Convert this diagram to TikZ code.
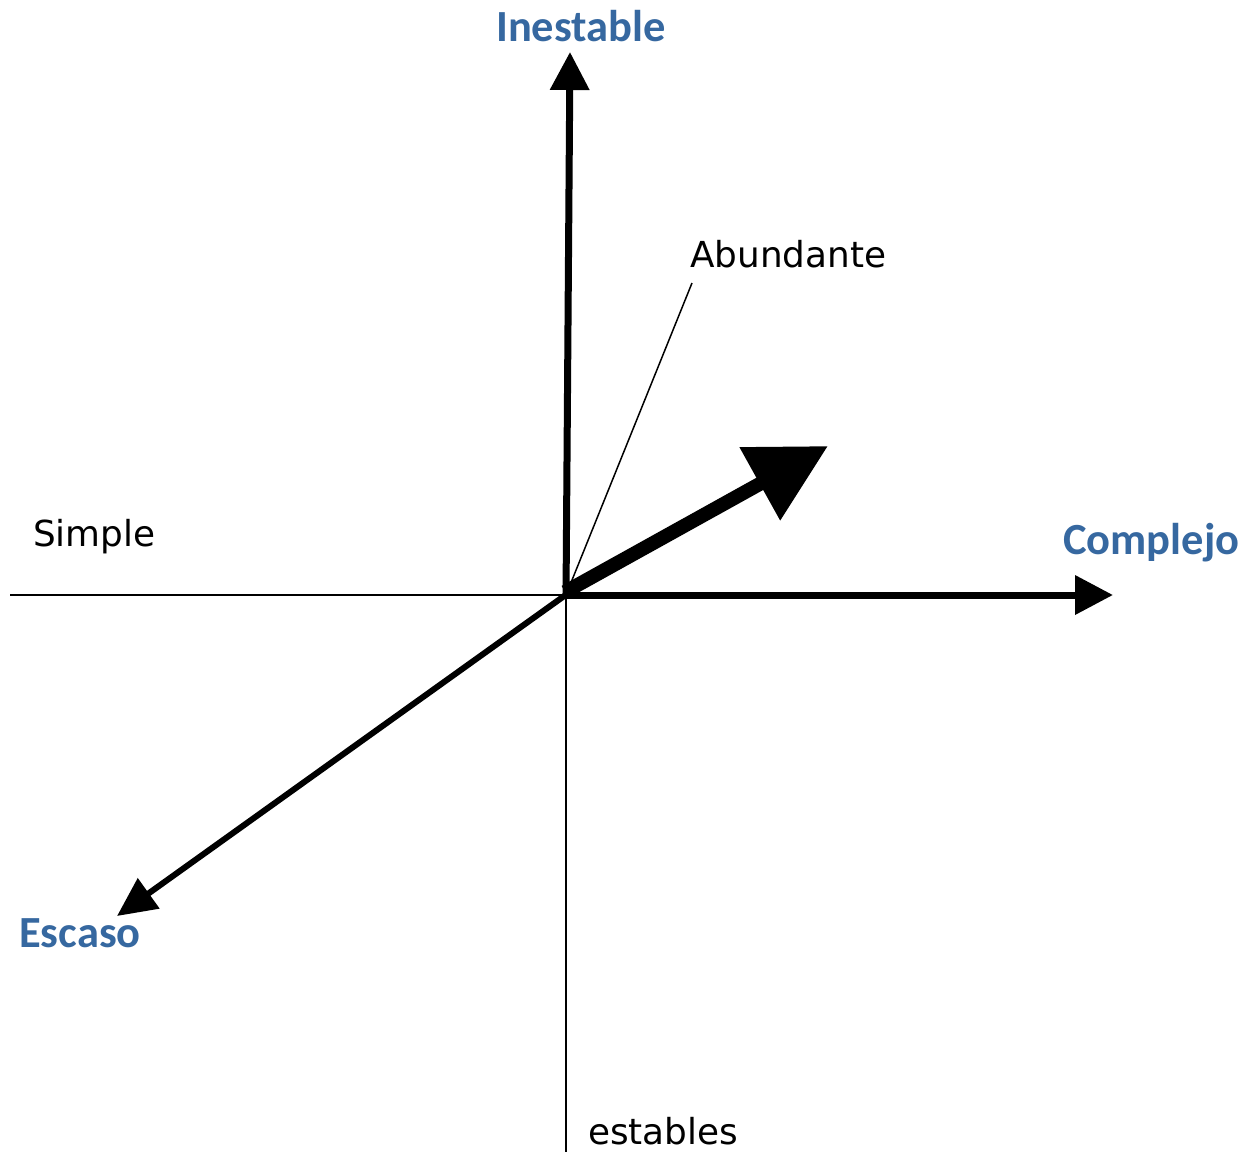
\documentclass[tikz,border=0pt]{standalone}
\usepackage{fontspec}
\setmainfont{DejaVu Sans}
\newfontfamily\labelfont{Carlito}
\usetikzlibrary{arrows.meta}
\definecolor{axisblue}{RGB}{54,104,160}
\tikzset{
  thinline/.style={line width=2pt, black},
  axisline/.style={line width=7pt, black, -{Triangle[length=38pt,width=38pt]}},
  bigarrow/.style={line width=14pt, black, -{Triangle[length=78pt,width=80pt]}},
  diagarrow/.style={line width=6pt, black, -{Triangle[length=39pt,width=36pt]}},
  plainlabel/.style={font=\fontsize{35.8}{40}\selectfont, inner sep=0pt, anchor=base west},
  bluelabel/.style={font=\labelfont\bfseries\fontsize{44.5}{48}\selectfont, text=axisblue, inner sep=0pt, anchor=base west},
}
\begin{document}
\begin{tikzpicture}[x=1pt,y=-1pt]
  \useasboundingbox (0,0) rectangle (1243,1152);
  % reference points
  \coordinate (O) at (567,594);
  \coordinate (left) at (10,595);
  \coordinate (bottom) at (566,1152);
  \coordinate (top) at (570,52);
  \coordinate (right) at (1113,595);
  \coordinate (ne) at (828,446);
  \coordinate (sw) at (117,916);
  \coordinate (lead) at (692,283);
  % thin half-axes
  \draw[thinline] (left) -- (566,595);
  \draw[thinline] (566,593) -- (bottom);
  \draw[line width=1.5pt] (568,590) -- (lead);
  % thick arrows
  \draw[axisline] (566,597) -- (top);
  \draw[axisline] (564,595) -- (right);
  \draw[diagarrow] (O) -- (sw);
  \draw[bigarrow] (565,592) -- (ne);
  % labels
  \node[bluelabel] (inest) at (496,41) {Inestable};
  \node[bluelabel] (compl) at (1063,554) {Complejo};
  \node[bluelabel] (escaso) at (19,947) {Escaso};
  \node[plainlabel] (simple) at (33,546) {Simple};
  \node[plainlabel] (abund) at (690,267) {Abundante};
  \node[plainlabel] (estab) at (588,1144) {estables};
\end{tikzpicture}
\end{document}
